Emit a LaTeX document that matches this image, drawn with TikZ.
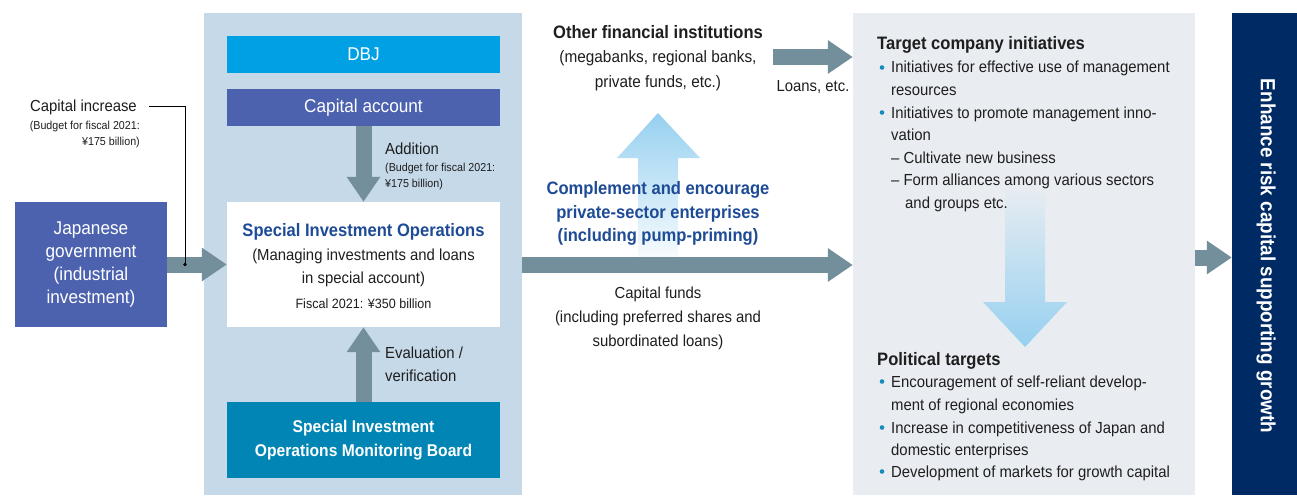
\documentclass[tikz,border=0pt]{standalone}
\usepackage{fontspec}
\setmainfont{Liberation Sans}[FakeStretch=0.93,BoldFeatures={FakeStretch=0.92}]
\usetikzlibrary{arrows.meta}
\definecolor{govblue}{RGB}{76,98,175}
\definecolor{dbjblue}{RGB}{0,160,228}
\definecolor{boardblue}{RGB}{0,133,180}
\definecolor{panelL}{RGB}{197,217,233}
\definecolor{panelR}{RGB}{233,237,241}
\definecolor{navy}{RGB}{0,42,100}
\definecolor{arrowgray}{RGB}{115,143,156}
\definecolor{titleblue}{RGB}{30,75,150}
\definecolor{bulletblue}{RGB}{20,140,190}
\definecolor{txtcol}{RGB}{30,30,30}
\definecolor{lightarrow}{RGB}{150,208,240}
\begin{document}
\begin{tikzpicture}[x=1pt,y=-1pt,
  box/.style={rectangle, inner sep=0pt, align=center},
  fat/.style={line width=16pt, draw=arrowgray, -{Triangle[length=25pt,width=32pt]}},
  txt/.style={anchor=base, inner sep=0pt, text=txtcol, font=\fontsize{16}{16}\selectfont},
  txtl/.style={txt, anchor=base west},
  txtr/.style={txt, anchor=base east},
  smalltxt/.style={font=\fontsize{11.5}{11.5}\selectfont},
  boldtxt/.style={font=\fontsize{18}{18}\selectfont\bfseries},
  bul/.style={circle, fill=bulletblue, inner sep=0pt, minimum size=4.6pt}
]
\useasboundingbox (0,0) rectangle (1297,495);
\fill[white] (0,0) rectangle (1297,495);

% panels
\node[box, fill=panelL, minimum width=318pt, minimum height=482pt] (pL) at (363,254) {};
\node[box, fill=panelR, minimum width=342pt, minimum height=482pt] (pR) at (1024,254) {};
\node[box, fill=navy, minimum width=65pt, minimum height=482pt] (navy) at (1264.5,254) {};

% gradient arrows
\shade[top color=lightarrow, bottom color=white] (638,270) -- (638,158) -- (617,158) -- (658,113) -- (700,158) -- (678,158) -- (678,270) -- cycle;
\shade[top color=panelR, bottom color=lightarrow] (1005,185) -- (1005,302) -- (983,302) -- (1025,347) -- (1067,302) -- (1045,302) -- (1045,185) -- cycle;

% boxes
\node[box, fill=govblue, text=white, minimum width=152pt, minimum height=125pt, font=\fontsize{18.5}{23.3}\selectfont] (gov) at (91,264.5) {Japanese\\government\\(industrial\\investment)};
\node[box, fill=dbjblue, text=white, minimum width=273pt, minimum height=37pt, font=\fontsize{18.5}{18.5}\selectfont] (dbj) at (363.5,54.5) {DBJ};
\node[box, fill=govblue, text=white, minimum width=273pt, minimum height=37pt, font=\fontsize{18.5}{18.5}\selectfont] (cap) at (363.5,107.5) {Capital account};
\node[box, fill=white, minimum width=273pt, minimum height=125pt] (sio) at (363.5,264.5) {};
\node[box, fill=boardblue, text=white, minimum width=273pt, minimum height=76pt, font=\fontsize{17}{23.5}\selectfont\bfseries] (board) at (363.5,440) {Special Investment\\Operations Monitoring Board};

% coordinates
\coordinate (dot) at (185,264.5);
\coordinate (loanS) at (773,57);
\coordinate (mainY) at (0,265);
\coordinate (endY) at (0,257.5);

% solid arrows
\draw[fat] (gov.east) -- (sio.west);
\draw[fat] (cap.south) -- (sio.north);
\draw[fat] (board.north) -- (sio.south);
\draw[fat] (pL.east |- mainY) -- (pR.west |- mainY);
\draw[fat] (loanS) -- (pR.west |- loanS);
\draw[fat] (pR.east |- endY) -- (navy.west |- endY);

% capital increase
\node[txtr] (capinc) at (137,111) {Capital increase};
\node[txtr, smalltxt] (capinc2) at (140,129) {(Budget for fiscal 2021:};
\node[txtr, smalltxt] (capinc3) at (140,145) {¥175 billion)};
\draw[black, line width=0.8pt] ([xshift=12pt]capinc.east |- 0,106) -| (dot);
\fill[black] (dot) circle (1.8pt);

% addition
\node[txtl] (add) at (385,154) {Addition};
\node[txtl, smalltxt] (add2) at (385,171) {(Budget for fiscal 2021:};
\node[txtl, smalltxt] (add3) at (385,187) {¥175 billion)};

% sio text
\node[txt, boldtxt, text=titleblue] (sio1) at (363.5,236) {Special Investment Operations};
\node[txt] (sio2) at (363.5,260) {(Managing investments and loans};
\node[txt] (sio3) at (363.5,283) {in special account)};
\node[txt, font=\fontsize{13.5}{13.5}\selectfont] (sio4) at (363.5,308) {Fiscal 2021: ¥350 billion};

% evaluation
\node[txtl] (ev1) at (385,358) {Evaluation /};
\node[txtl] (ev2) at (385,381) {verification};

% other financial
\node[txt, boldtxt] (ofi1) at (658,39) {Other financial institutions};
\node[txt, font=\fontsize{16.5}{16.5}\selectfont] (ofi2) at (658,63) {(megabanks, regional banks,};
\node[txt, font=\fontsize{16.5}{16.5}\selectfont] (ofi3) at (658,87) {private funds, etc.)};
\node[txt] (loans) at (813,91) {Loans, etc.};

% complement
\node[txt, boldtxt, text=titleblue] (cm1) at (658,194) {Complement and encourage};
\node[txt, boldtxt, text=titleblue] (cm2) at (658,218) {private-sector enterprises};
\node[txt, boldtxt, text=titleblue] (cm3) at (658,241) {(including pump-priming)};

% capital funds
\node[txt] (cf1) at (658,298) {Capital funds};
\node[txt] (cf2) at (658,322) {(including preferred shares and};
\node[txt] (cf3) at (658,346) {subordinated loans)};

% target company
\node[txtl, boldtxt] (tc0) at (877,50) {Target company initiatives};
\node[txtl] (tc1) at (891,73) {Initiatives for effective use of management};
\node[txtl] (tc2) at (891,95) {resources};
\node[txtl] (tc3) at (891,118) {Initiatives to promote management inno-};
\node[txtl] (tc4) at (891,140) {vation};
\node[txtl] (tc5) at (891,163) {– Cultivate new business};
\node[txtl] (tc6) at (891,185) {– Form alliances among various sectors};
\node[txtl] (tc7) at (905,208) {and groups etc.};
\node[bul] (b1) at (882,67.5) {};
\node[bul] (b2) at (882,112.5) {};

% political
\node[txtl, boldtxt] (pt0) at (877,365) {Political targets};
\node[txtl] (pt1) at (891,387) {Encouragement of self-reliant develop-};
\node[txtl] (pt2) at (891,410) {ment of regional economies};
\node[txtl] (pt3) at (891,433) {Increase in competitiveness of Japan and};
\node[txtl] (pt4) at (891,455) {domestic enterprises};
\node[txtl] (pt5) at (891,477) {Development of markets for growth capital};
\node[bul] (b3) at (882,381.5) {};
\node[bul] (b4) at (882,427.5) {};
\node[bul] (b5) at (882,471.5) {};

% navy text
\node[inner sep=0pt, text=white, rotate=-90, font=\fontsize{20.5}{20.5}\selectfont\bfseries] (enh) at (1266,256) {Enhance risk capital supporting growth};
\end{tikzpicture}
\end{document}
